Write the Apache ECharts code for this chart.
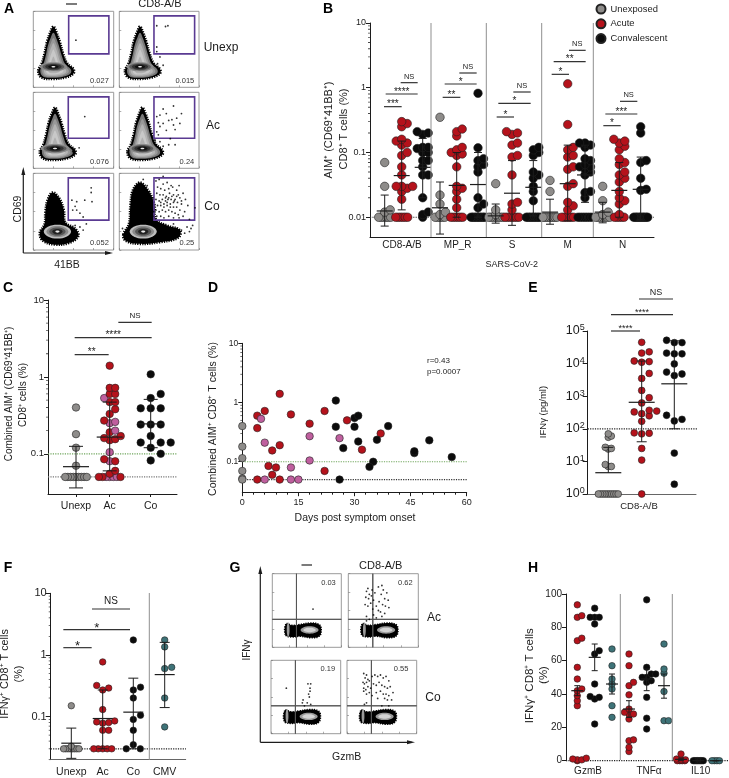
<!DOCTYPE html>
<html>
<head>
<meta charset="utf-8">
<title>AIM and IFNg CD8 T cell responses</title>
<script src="https://cdn.jsdelivr.net/npm/echarts@6/dist/echarts.min.js"></script>
<style>html,body{margin:0;padding:0;background:#fff}#chart{width:729px;height:778px}</style>
</head>
<body>
<div id="chart"></div>
<script>
// ---------- data ----------
// panel B, one list per peptide pool: CD8-A/B, MP_R, S, M, N
var bUnexp = [
	[0.07,0.03,0.013,0.012,0.01,0.01,0.01,0.01,0.01,0.01],
	[0.35,0.022,0.016,0.012,0.011,0.01,0.01,0.01,0.01,0.01],
	[0.033,0.013,0.011,0.01,0.01,0.01,0.01,0.01,0.01,0.01],
	[0.037,0.025,0.01,0.01,0.01,0.01,0.01,0.01,0.01,0.01],
	[0.03,0.018,0.012,0.011,0.01,0.01,0.01,0.01,0.01,0.01,0.01]
]
var bAcute = [
	[0.3,0.28,0.25,0.16,0.15,0.14,0.13,0.1,0.09,0.06,0.045,0.03,0.03,0.03,0.028,0.025,0.019,0.01,0.01,0.01,0.01,0.01,0.01],
	[0.23,0.21,0.18,0.12,0.11,0.1,0.095,0.09,0.06,0.03,0.028,0.025,0.019,0.014,0.01,0.01,0.01,0.01,0.01,0.01],
	[0.21,0.2,0.19,0.14,0.13,0.09,0.085,0.045,0.017,0.016,0.013,0.01,0.01,0.01,0.01,0.01,0.01,0.01],
	[1.15,0.27,0.12,0.11,0.09,0.085,0.06,0.055,0.033,0.03,0.017,0.015,0.013,0.01,0.01,0.01,0.01,0.01,0.01],
	[0.16,0.15,0.14,0.125,0.11,0.08,0.07,0.065,0.05,0.045,0.04,0.035,0.025,0.02,0.018,0.016,0.011,0.01,0.01,0.01,0.01,0.01]
]
var bConv = [
	[0.21,0.2,0.19,0.12,0.12,0.115,0.1,0.1,0.075,0.075,0.06,0.045,0.045,0.02,0.012,0.011,0.01],
	[0.82,0.118,0.08,0.075,0.065,0.06,0.05,0.02,0.016,0.014,0.01,0.01,0.01,0.01,0.01,0.01,0.01,0.01,0.01,0.01],
	[0.12,0.11,0.1,0.09,0.05,0.045,0.04,0.03,0.025,0.018,0.01,0.01,0.01,0.01,0.01,0.01,0.01,0.01,0.01,0.01],
	[0.14,0.14,0.13,0.12,0.08,0.075,0.065,0.06,0.06,0.055,0.05,0.045,0.025,0.024,0.02,0.01,0.01,0.01,0.01,0.01,0.01,0.01],
	[0.25,0.2,0.075,0.07,0.04,0.027,0.026,0.01,0.01,0.01,0.01,0.01,0.01,0.01,0.01,0.01,0.01,0.01]
]
var bCats = ['CD8-A/B','MP_R','S','M','N']
// mean, upper, lower per group, in the same order as the dots are drawn
var bStats = [
	[0.0125,0.022,0.0073],[0.044,0.15,0.013],[0.059,0.165,0.02],
	[0.014,0.035,0.0055],[0.031,0.1,0.01],[0.032,0.1,0.01],
	[0.0105,0.016,0.0081],[0.0235,0.075,0.0075],[0.029,0.075,0.0105],
	[0.012,0.019,0.0078],[0.033,0.13,0.0088],[0.045,0.13,0.017],
	[0.012,0.017,0.0082],[0.026,0.07,0.01],[0.027,0.085,0.009]
]
// panel C
var cUnexp = [0.4,0.18,0.12,0.07,0.05,0.05,0.05,0.05,0.05,0.05,0.05,0.05,0.05]
var cAcRed = [1.4,0.72,0.72,0.6,0.6,0.47,0.47,0.38,0.33,0.27,0.19,0.17,0.16,0.155,0.15,0.085,0.08,0.06,0.055,0.05,0.05,0.05]
var cAcPink = [0.53,0.26,0.25,0.2,0.105,0.08,0.05,0.05,0.05,0.05]
var cCo = [1.08,0.6,0.53,0.39,0.39,0.39,0.24,0.24,0.24,0.17,0.14,0.14,0.14,0.12,0.1,0.082]
var cCats = ['Unexp','Ac','Co']
var cStats = [[0.068,0.125,0.036],[0.165,0.47,0.06],[0.245,0.51,0.12]]
// panel D [days, percent]
var dGrey = [[0,0.4],[0,0.18],[0,0.115],[0,0.07],[0,0.052],[0,0.05]]
var dRed = [[4,0.6],[4,0.37],[6,0.72],[10,1.4],[13,0.63],[22,0.72],[18,0.44],[28,0.5],[37,0.3],[10,0.19],[8,0.155],[32,0.16],[7,0.085],[9,0.08],[8,0.06],[22,0.07],[4,0.05],[10,0.05]]
var dPink = [[5,0.53],[6,0.21],[18,0.27],[26,0.25],[18,0.105],[13,0.08],[6,0.05],[13,0.05],[15,0.05]]
var dBlack = [[25,1.08],[30,0.55],[31,0.6],[25,0.39],[30,0.39],[39,0.4],[31,0.22],[36,0.235],[27,0.17],[46,0.14],[46,0.15],[50,0.23],[56,0.12],[35,0.1],[34,0.082],[26,0.05]]
// panel E
var eUnexp = [70,60,55,27,25,24,8,7,7,1,1,1,1,1,1,1,1,1,1]
var eAc = [45000,23000,21000,12000,11500,11000,5000,3500,1500,900,620,370,350,330,290,250,170,75,73,70,25,11,1]
var eCo = [52000,44000,44000,21000,20000,20000,9800,5500,4800,4300,260,195,175,18,2]
var eStats = [[4.5,27,null],[650,12000,40],[2400,50000,100]]
// panel F
var fUnexp = [0.15,0.033,0.03,0.03,0.03,0.03,0.03,0.03,0.03,0.03]
var fAc = [0.77,0.32,0.29,0.27,0.13,0.085,0.082,0.08,0.078,0.06,0.06,0.03,0.03,0.03,0.03,0.03]
var fCo = [1.75,0.3,0.27,0.2,0.105,0.09,0.06,0.035,0.03,0.03]
var fCmv = [1.75,1.35,0.63,0.6,0.2,0.068]
var fCats = ['Unexp','Ac','Co','CMV']
var fStats = [[0.037,0.065,0.021],[0.093,0.27,0.03],[0.118,0.42,0.03],[0.48,1.6,0.14]]
// panel H, one list per cytokine: GzmB, TNFa, IL10
var hAc = [
	[93.5,87,86,73.5,72,56,49,43,42,39,36,33,1.5,1,0.5,0.5,0],
	[64,57,47,45,39.5,31,29,28,28,25,12.5,12,8,5.5],
	[4,1,0.5,0.5,0,0,0,0]
]
var hCo = [
	[91.5,86,86,86,82,66,64,46,38.5,38,37,22],
	[96.5,56,52,52,50,50,48,47,38,25.5,19],
	[0,0,0,0,0,0,0,0]
]
var hCmv = [
	[67,57,49,46,43,33,26],
	[70,55,52.5,41.5,24,24],
	[0,0,0,0]
]
var hCats = ['GzmB','TNFα','IL10']
var hStats = [[42,45,39],[62,70,54],[46,52,40],[31,36,26],[49,55,42],[45,52,37.5],[0.8,1.5,0],[0,0,0],[0,0,0]]
// flow cytometry rare events, percent of plot width and height
var a11 = [[53,62]]
var a12 = [[47,81],[58,80],[61,81],[47,53],[47,47],[51,40],[55,29],[50,25],[48,31]]
var a21 = [[64,68],[57,27],[50,24],[49,22]]
var a22 = [[68,82],[55,78],[78,72],[51,70],[59,72],[47,68],[66,64],[72,66],[49,60],[55,59],[62,63],[76,59],[51,55],[68,57],[47,48],[59,50],[70,51],[49,44],[55,29],[62,31],[70,31],[51,35],[45,37],[64,39]]
var a31 = [[72,81],[72,75],[73,63],[64,65],[54,63],[48,65],[52,57],[58,48],[49,52],[62,43],[54,52],[10,14],[66,34],[62,26],[58,30],[52,32]]
var a32 = [[46,90],[50,92],[55,86],[60,88],[65,84],[48,82],[52,80],[57,78],[62,80],[67,82],[72,78],[75,84],[80,74],[47,74],[51,72],[55,72],[59,70],[63,74],[68,72],[72,70],[76,68],[83,66],[46,66],[50,64],[54,66],[58,64],[61,66],[65,66],[69,64],[73,62],[78,60],[86,58],[48,58],[52,58],[56,60],[60,58],[64,60],[68,56],[72,56],[76,52],[82,50],[46,52],[50,50],[54,52],[58,50],[62,52],[66,50],[70,48],[74,46],[47,44],[52,44],[56,42],[62,44],[68,42],[75,42],[80,44],[88,40],[30,92],[35,84],[38,76],[42,68],[40,60],[43,50],[42,44],[85,30],[90,28],[92,32],[82,22],[78,26],[88,24],[72,28],[68,34],[4,28],[55,96],[95,55],[58,68],[62,68],[66,70],[70,66],[60,62],[64,56],[68,62],[56,56],[52,62],[74,72],[78,64]]
var g11 = [[59,52]]
var g12 = [[28,80],[26,76],[30,72],[34,78],[25,68],[29,66],[33,70],[38,74],[36,64],[43,82],[48,84],[50,78],[55,74],[47,72],[52,66],[57,64],[44,62],[49,58],[40,56],[53,56],[58,54],[35,52],[43,50],[46,48],[24,58],[28,56],[32,60],[26,42],[30,38],[36,44],[40,40],[52,46],[48,42],[26,36]]
var g21 = [[22,62],[53,68],[57,68],[56,62],[56,58],[54,54],[55,50],[46,46],[45,42],[52,42],[57,40],[48,38]]
var g22 = [[24,82],[28,80],[26,76],[30,74],[23,70],[25,68],[28,70],[32,72],[36,78],[40,80],[44,78],[48,80],[52,76],[56,78],[60,72],[24,62],[27,60],[30,64],[34,62],[38,68],[42,66],[46,70],[50,66],[54,64],[58,62],[62,64],[28,54],[32,56],[36,52],[42,56],[48,58],[52,54],[56,54],[60,52],[66,56],[24,58],[44,48],[54,48],[58,46],[25,40],[28,42],[50,38],[60,38],[64,46]]

// ---------- colours ----------
var GREY = '#8e8c8a', RED = '#b5121b', BLACK = '#0b0b0b', PINK = '#bf5f9e', TEAL = '#3e7378'
var INK = '#1c1c1c', RULE = '#8f8f8f', FONT = '"Liberation Sans", Arial, sans-serif'

var grids = [], xAxes = [], yAxes = [], series = [], graphics = []

function text(x,y,s,o){
	o = o || {}
	graphics.push({type:'text',x:x,y:y,rotation:o.rot||0,z:60,silent:true,style:{
		text:s,fontSize:o.size||10,fontFamily:FONT,fontWeight:o.weight||'normal',fill:o.color||INK,
		align:o.align||'center',verticalAlign:'middle'}})
}
function rule(x1,y1,x2,y2,color,width){
	graphics.push({type:'line',z:55,silent:true,shape:{x1:x1,y1:y1,x2:x2,y2:y2},style:{stroke:color||INK,lineWidth:width||1}})
}
function arrowHead(x,y,dir){
	var pts = dir=='up' ? [[x-2,y+8],[x+2,y+8],[x,y]] : [[x-8,y-2],[x-8,y+2],[x,y]]
	graphics.push({type:'polygon',z:55,silent:true,shape:{points:pts},style:{fill:INK}})
}
// significance bar, coordinates of the bar on the page
function bracket(x1,x2,y,label,size,dy){
	rule(x1,y,x2,y,'#333',1.2)
	var ns = label=='NS'
	text((x1+x2)/2,y-(dy||(ns?6:2)),label,{size:size||(ns?7.5:10)})
}
function addGrid(left,top,right,bottom,x,y){
	var i = grids.length
	grids.push({left:left,top:top,width:right-left,height:bottom-top,show:false})
	xAxes.push(Object.assign({type:'value',gridIndex:i,min:left,max:right,splitLine:{show:false},
		axisLine:{onZero:false,lineStyle:{color:INK,width:1}},axisTick:{show:false},axisLabel:{show:false}},x))
	yAxes.push(Object.assign({type:'value',gridIndex:i,splitLine:{show:false},
		axisLine:{onZero:false,lineStyle:{color:INK,width:1}},axisTick:{length:3,lineStyle:{color:INK}},
		axisLabel:{color:INK,fontFamily:FONT,fontSize:10,margin:4}},y))
	return i
}
function logLabel(v){
	var p = Math.log10(v)
	if(Math.abs(p-Math.round(p))>0.01) return ''
	p = Math.round(p)
	return p>=0 ? String(Math.pow(10,p)) : Math.pow(10,p).toFixed(-p)
}
function catLabels(centers,names,size,margin,ticks){
	return {
		axisTick:{show:!!ticks,customValues:centers,length:3,lineStyle:{color:INK}},
		axisLabel:{show:true,customValues:centers,margin:margin,fontSize:size,color:INK,fontFamily:FONT,hideOverlap:false,
			formatter:function(v){ return names[centers.indexOf(v)] }}
	}
}
// small log ticks drawn on the y axis line
function logMinors(i,x,lo,hi){
	var vals = []
	for(var p=lo;p<hi;p++) for(var k=2;k<10;k++) vals.push([x,k*Math.pow(10,p)])
	series.push({type:'scatter',xAxisIndex:i,yAxisIndex:i,data:vals,symbol:'rect',symbolSize:[2,0.8],symbolOffset:[-1,0],
		clip:false,silent:true,itemStyle:{color:INK},z:2})
}
function dotted(i,x1,x2,v,color){
	series.push({type:'line',xAxisIndex:i,yAxisIndex:i,data:[[x1,v],[x2,v]],symbol:'none',silent:true,z:2,clip:false,
		lineStyle:{type:'dotted',width:1.2,color:color||INK}})
}
// lay one group of values out side by side the way Prism does:
// values on the detection floor sit in a tight row, the rest push apart
function swarm(items,cx,toPx,lay){
	var placed = []
	var floorItems = items.filter(function(it){ return it.v===lay.floor })
	var n = floorItems.length
	var s = lay.floorStep
	if(n>1) s = Math.min(s,2*lay.floorHalf/(n-1))
	floorItems.forEach(function(it,j){
		var off = j==0 ? 0 : (j%2 ? 1 : -1)*Math.ceil(j/2)*s
		if(n%2==0) off -= s/2
		placed.push({x:off,y:toPx(it.v),v:it.v,c:it.c,floor:true})
	})
	items.filter(function(it){ return it.v!==lay.floor }).sort(function(a,b){return a.v-b.v}).forEach(function(it){
		var y = toPx(it.v), k = 0, off = 0
		while(true){
			off = k==0 ? 0 : (k%2 ? 1 : -1)*Math.ceil(k/2)*lay.step
			var clash = placed.some(function(p){ if(p.floor) return false; var dx=p.x-off,dy=p.y-y; return Math.sqrt(dx*dx+dy*dy)<lay.dmin })
			if(!clash) break
			k++
		}
		placed.push({x:off,y:y,v:it.v,c:it.c})
	})
	return placed.map(function(p){ return {value:[cx+p.x,p.v],itemStyle:{color:p.c}} })
}
function dots(i,name,data,color,size){
	series.push({type:'scatter',name:name,xAxisIndex:i,yAxisIndex:i,data:data,symbol:'circle',symbolSize:size,clip:false,z:3,silent:true,
		itemStyle:{color:color,borderColor:'#222',borderWidth:0.6,opacity:1}})
}
function group(i,name,vals,color,cx,toPx,size,lay){
	var items = vals.map(function(v){ return {v:v,c:color} })
	dots(i,name,swarm(items,cx,toPx,lay),color,size)
}
// mean line with upper and lower caps
function errorBars(i,centers,stats,meanW,capW){
	var rows = stats.map(function(s,k){ return [centers[k],s[0],s[1],s[2]] })
	series.push({type:'custom',xAxisIndex:i,yAxisIndex:i,data:rows,z:5,silent:true,clip:false,
		encode:{x:0,y:1},
		renderItem:function(params,api){
			var r = rows[params.dataIndex], kids = []
			var m = api.coord([r[0],r[1]]), hi = api.coord([r[0],r[2]])
			var lo = r[3]==null ? m : api.coord([r[0],r[3]])
			function seg(a,b,c,d,w){ kids.push({type:'line',shape:{x1:a,y1:b,x2:c,y2:d},style:{stroke:INK,lineWidth:w||1}}) }
			seg(m[0],hi[1],m[0],lo[1])
			seg(m[0]-meanW,m[1],m[0]+meanW,m[1],1.2)
			seg(m[0]-capW,hi[1],m[0]+capW,hi[1])
			if(r[3]!=null) seg(m[0]-capW,lo[1],m[0]+capW,lo[1])
			return {type:'group',children:kids}
		}})
}

// ---------- flow cytometry plots ----------
var tallBlob = [[6,22],[10,30],[14,45],[17,60],[21,72],[25,80],[29,72],[33,60],[37,45],[42,32],[50,24],[50,18],[40,13],[25,11],[10,13]]
var wideCloud = [[6,22],[12,34],[13,50],[16,66],[22,75],[30,68],[36,52],[38,36],[50,28],[54,18],[42,9],[25,7],[10,12]]
var bigCloud = [[5,20],[12,34],[14,60],[17,78],[26,88],[36,78],[44,60],[46,40],[60,32],[76,26],[74,16],[50,10],[25,8],[8,12]]
var flatBlob = [[19,17],[20,32],[28,30],[40,31],[55,33],[68,31],[71,24],[68,15],[55,13],[40,15],[28,14]]

function scalePts(pts,cx,cy,k){ return pts.map(function(p){ return [cx+(p[0]-cx)*k,cy+(p[1]-cy)*k] }) }
function ellipse(cx,cy,rx,ry){
	return [[-1,0],[-0.7,0.7],[0,1],[0.7,0.7],[1,0],[0.7,-0.7],[0,-1],[-0.7,-0.7]].map(function(u){ return [cx+u[0]*rx,cy+u[1]*ry] })
}
// shapes: list of {pts, fill, stroke, width, dash}, dots: scattered events
function flowPlot(box,shapes,pts,label,labelPos){
	var tick = {show:true,length:2,inside:true,lineStyle:{color:'#777',width:0.6}}
	var i = grids.length
	grids.push({left:box[0],top:box[1],width:box[2]-box[0],height:box[3]-box[1],show:true,borderColor:'#9a9a9a',borderWidth:1,backgroundColor:'#fff'})
	xAxes.push({type:'value',gridIndex:i,min:0,max:100,interval:25,splitLine:{show:false},axisLine:{show:false},axisTick:tick,axisLabel:{show:false}})
	yAxes.push({type:'value',gridIndex:i,min:0,max:100,interval:25,splitLine:{show:false},axisLine:{show:false},axisTick:tick,axisLabel:{show:false}})
	series.push({type:'custom',xAxisIndex:i,yAxisIndex:i,silent:true,z:2,data:shapes.map(function(s,k){ return [s.pts[0][0],s.pts[0][1],k] }),
		encode:{x:0,y:1},
		renderItem:function(params,api){
			var s = shapes[params.dataIndex]
			return {type:'polygon',shape:{points:s.pts.map(function(p){ return api.coord(p) }),smooth:s.sharp?0:0.4},
				style:{fill:s.fill||'none',stroke:s.stroke||null,lineWidth:s.width||0,lineDash:s.dash||null}}
		}})
	series.push({type:'scatter',xAxisIndex:i,yAxisIndex:i,data:pts,symbol:'circle',symbolSize:1.8,silent:true,z:3,itemStyle:{color:'#000'}})
	text(box[0]+(box[2]-box[0])*labelPos[0]/100,box[3]-(box[3]-box[1])*labelPos[1]/100,label,{size:7.5,align:labelPos[2]||'right',color:'#333'})
}
function blobLayers(outline,cx,cy,bx,by,brx,bry){
	var out = [{pts:outline,fill:'#000',stroke:'#000',width:2.5,dash:[1.2,1.2]}]
	;[[0.86,'#777'],[0.74,'#999'],[0.62,'#b4b4b4'],[0.48,'#c8c8c8'],[0.32,'#b0b0b0']].forEach(function(l){
		out.push({pts:scalePts(outline,cx,cy,l[0]),fill:l[1]})
	})
	;[[1,'#8a8a8a'],[0.8,'#5c5c5c'],[0.6,'#333'],[0.38,'#111'],[0.15,'#e8e8e8']].forEach(function(l){
		out.push({pts:ellipse(bx,by,brx*l[0],bry*l[0]),fill:l[1]})
	})
	return out
}
// clouds of the convalescent row: solid black with contours only at the base
function cloudLayers(outline,bx,by,brx,bry){
	var out = [{pts:outline,fill:'#000',stroke:'#000',width:2.5,dash:[1.2,1.2]}]
	;[[1,'#bdbdbd'],[0.8,'#8a8a8a'],[0.6,'#555'],[0.38,'#222'],[0.15,'#e8e8e8']].forEach(function(l){
		out.push({pts:ellipse(bx,by,brx*l[0],bry*l[0]),fill:l[1]})
	})
	return out
}
function gate(x1,y1,x2,y2){
	return {pts:[[x1,y1],[x2,y1],[x2,y2],[x1,y2]],stroke:'#5a3a92',width:1.6,sharp:true}
}
var shift = function(pts,dx){ return pts.map(function(p){ return [p[0]+dx,p[1]] }) }
var rowsA = [[11.3,87.3],[92.3,168.3],[173.3,250]], colsA = [[33.3,113.7],[119.3,199]]
flowPlot([colsA[0][0],rowsA[0][0],colsA[0][1],rowsA[0][1]],blobLayers(tallBlob,25,22,25,27,17,6).concat([gate(44,44,94,94)]),a11,'0.027',[94,9])
flowPlot([colsA[1][0],rowsA[0][0],colsA[1][1],rowsA[0][1]],blobLayers(shift(tallBlob,1),26,22,26,27,17,6).concat([gate(43.5,44,94.5,94)]),a12,'0.015',[94,9])
flowPlot([colsA[0][0],rowsA[1][0],colsA[0][1],rowsA[1][1]],blobLayers(shift(tallBlob,2),27,22,27,26,18,6).concat([gate(43.5,39.5,94,94)]),a21,'0.076',[94,9])
flowPlot([colsA[1][0],rowsA[1][0],colsA[1][1],rowsA[1][1]],blobLayers(shift(tallBlob,4),29,22,29,26,17,6).concat([gate(43.5,39.5,94.5,94)]),a22,'0.24',[94,9])
flowPlot([colsA[0][0],rowsA[2][0],colsA[0][1],rowsA[2][1]],cloudLayers(shift(wideCloud,2),30,24,17,9).concat([gate(43.5,39,94,94)]),a31,'0.052',[94,9])
flowPlot([colsA[1][0],rowsA[2][0],colsA[1][1],rowsA[2][1]],cloudLayers(bigCloud,30,24,17,9).concat([gate(43.5,39,94.5,94)]),a32,'0.25',[94,9])

function quad(){ return [{pts:[[35,0],[35,100],[35.01,100],[35.01,0]],stroke:'#555',width:1,sharp:true},{pts:[[0,38],[100,38],[100,38.01],[0,38.01]],stroke:'#555',width:1,sharp:true}] }
function flatLayers(){
	var out = [{pts:flatBlob,fill:'#000',stroke:'#000',width:1.5,dash:[1.2,1.2]}]
	;[[13,5,'#9a9a9a'],[9,3,'#d4d4d4']].forEach(function(l){ out.push({pts:ellipse(54,23.5,l[0],l[1]),fill:l[2]}) })
	out.push({pts:ellipse(23,24,2,10),fill:'#9a9a9a'})
	return out.concat(quad())
}
flowPlot([272.3,573.7,341.3,647.3],flatLayers(),g11,'0.03',[92,87])
flowPlot([348.3,573.7,418.3,647.3],flatLayers(),g12,'0.62',[92,87])
flowPlot([271,660.3,340.7,733.7],flatLayers(),g21,'0.19',[92,88])
flowPlot([347,660.3,416.7,733.7],flatLayers(),g22,'0.55',[88,88])

// ---------- panel B ----------
var bPx = function(v){ return Math.log10(v)*64.8 }
var bCenters = [384.7,401.7,422.7,440,456.7,478,495.7,512,533.3,550,567.7,585,602.7,619.3,640.7]
var bLabelX = [402,457.7,512,567.7,622.7]
var bLay = {floor:0.01,floorStep:2.4,floorHalf:7,dmin:4.2,step:5.5}
var bg = addGrid(370,23,654,237.3,catLabels(bLabelX,bCats,10,3,false),
	{type:'log',logBase:10,min:0.0049,max:10,axisLabel:{fontSize:9,color:INK,fontFamily:FONT,margin:4,customValues:[0.01,0.1,1,10],formatter:logLabel},
	axisTick:{length:4,customValues:[0.01,0.1,1,10],lineStyle:{color:INK}}})
logMinors(bg,370,-2,1)
dotted(bg,370,654,0.01,'#333')
bCats.forEach(function(c,k){
	group(bg,'Unexposed',bUnexp[k],GREY,bCenters[k*3],bPx,8.5,bLay)
	group(bg,'Acute',bAcute[k],RED,bCenters[k*3+1],bPx,8.5,bLay)
	group(bg,'Convalescent',bConv[k],BLACK,bCenters[k*3+2],bPx,8.5,bLay)
})
errorBars(bg,bCenters,bStats,8,4)
;[431,486.3,541.7,593.3].forEach(function(x){ rule(x,23,x,237,RULE,1) })
text(511.7,265,'SARS-CoV-2',{size:9})
text(329,130,'AIM⁺ (CD69⁺41BB⁺)',{rot:Math.PI/2,size:11})
text(344,129,'CD8⁺ T cells (%)',{rot:Math.PI/2,size:11})
var bBars = [
	[402,455,320,'***'],[407,503,282,'****'],[452,503,248,'NS'],
	[578,631,292,'**'],[584,680,252,'*'],[628,680,219,'NS'],
	[740,792,351,'*'],[745,842,310,'*'],[790,842,276,'NS'],
	[905,957,223,'*'],[911,1007,185,'**'],[957,1007,151,'NS'],
	[1060,1112,377,'*'],[1066,1162,342,'***'],[1110,1162,304,'NS']
]
bBars.forEach(function(b){ bracket(250+b[0]/3,250+b[1]/3,b[2]/3,b[3]) })

// ---------- panel C ----------
var cPx = function(v){ return Math.log10(v)*76.8 }
var cCenters = [76,109.7,150.7]
var cg = addGrid(48,300,177,494,catLabels(cCenters,cCats,10.5,7,true),
	{type:'log',logBase:10,min:0.03,max:10,axisLabel:{fontSize:9.5,color:INK,fontFamily:FONT,margin:4,customValues:[0.1,1,10],formatter:logLabel},
	axisTick:{length:4,customValues:[0.1,1,10],lineStyle:{color:INK}}})
logMinors(cg,48,-1,1)
dotted(cg,48,177,0.1,'#6fa65c')
dotted(cg,48,177,0.05,'#777')
group(cg,'Unexp',cUnexp,GREY,cCenters[0],cPx,7.5,{floor:0.05,floorStep:2.7,floorHalf:12,dmin:6,step:6.5})
dots(cg,'Ac',swarm(cAcPink.map(function(v){return {v:v,c:PINK}}).concat(cAcRed.map(function(v){return {v:v,c:RED}})),cCenters[1],cPx,{floor:0.05,floorStep:3.6,floorHalf:12,dmin:4.8,step:5.5}),RED,7.5)
group(cg,'Co',cCo,BLACK,cCenters[2],cPx,7.5,{floor:-1,floorStep:0,floorHalf:0,dmin:7,step:10})
errorBars(cg,cCenters,cStats,13,7)
text(9.5,394,'Combined AIM⁺ (CD69⁺41BB⁺)',{rot:Math.PI/2,size:10})
text(23,395,'CD8⁺ cells (%)',{rot:Math.PI/2,size:10})
bracket(224/3,326/3,275+239/3,'**',10)
bracket(224/3,455/3,275+188/3,'****',10)
bracket(355/3,455/3,275+142/3,'NS',8,7)

// ---------- panel D ----------
var dg = addGrid(242.3,343.3,466.7,492.7,{
	min:0,max:60,interval:15,axisTick:{show:true,length:3.5,lineStyle:{color:INK}},minorTick:{show:true,splitNumber:5,length:2,lineStyle:{color:INK}},
	axisLabel:{show:true,fontSize:9,color:INK,fontFamily:FONT,margin:5}
},{type:'log',logBase:10,min:0.03,max:10,axisLabel:{fontSize:8.5,color:INK,fontFamily:FONT,margin:4,customValues:[0.1,1,10],formatter:logLabel},
	axisTick:{length:4,customValues:[0.1,1,10],lineStyle:{color:INK}}})
logMinors(dg,0,-1,1)
dotted(dg,0,60,0.1,'#6fa65c')
dotted(dg,0,60,0.05,'#333')
dots(dg,'Unexp',dGrey,GREY,7.5)
dots(dg,'Acute',dRed,RED,7.5)
dots(dg,'Acute mild',dPink,PINK,7.5)
dots(dg,'Conv',dBlack,BLACK,7.5)
text(213.5,419,'Combined AIM⁺ CD8⁺ T cells (%)',{rot:Math.PI/2,size:10.5})
text(355,517.7,'Days post symptom onset',{size:10.5})
text(427,361,'r=0.43',{size:8,align:'left'})
text(427,372,'p=0.0007',{size:8,align:'left'})

// ---------- panel E ----------
var ePx = function(v){ return Math.log10(v)*32.6 }
var eCenters = [608.3,641.7,674.3]
var eg = addGrid(587.7,331,696,494,catLabels([639],['CD8-A/B'],9.5,7,false),
	{type:'log',logBase:10,min:1,max:100000,axisLabel:{color:INK,fontFamily:FONT,margin:3,customValues:[1,10,100,1000,10000,100000],
		formatter:function(v){ return '{a|10}{b|'+Math.round(Math.log10(v))+'}' },
		rich:{a:{fontSize:12.5,fontFamily:FONT,color:INK},b:{fontSize:9,fontFamily:FONT,color:INK,padding:[0,0,6,0]}}},
	axisTick:{length:5,customValues:[1,10,100,1000,10000,100000],lineStyle:{color:INK}}})
xAxes[eg].axisLine.lineStyle.color = '#666'
dotted(eg,587.7,697,100,'#222')
group(eg,'Unexp',eUnexp,GREY,eCenters[0],ePx,6.8,{floor:1,floorStep:2.2,floorHalf:10,dmin:3,step:3})
group(eg,'Ac',eAc,RED,eCenters[1],ePx,6.8,{floor:-1,floorStep:0,floorHalf:0,dmin:5.5,step:7.5})
group(eg,'Co',eCo,BLACK,eCenters[2],ePx,6.8,{floor:-1,floorStep:0,floorHalf:0,dmin:6,step:7.7})
errorBars(eg,eCenters,eStats,13,5)
text(543,412,'IFNγ (pg/ml)',{rot:Math.PI/2,size:9.5})
bracket(611,640,331,'****',9,2)
bracket(611,673,314.7,'****',9,2)
bracket(639,673,299,'NS',9,6.5)

// ---------- panel F ----------
var fPx = function(v){ return Math.log10(v)*62 }
var fCenters = [71.3,102.7,133.3,164.7]
var fg = addGrid(50.7,593.3,185.7,760,catLabels(fCenters,fCats,10.5,8,false),
	{type:'log',logBase:10,min:0.0205,max:10,axisLabel:{fontSize:11,color:INK,fontFamily:FONT,margin:4,customValues:[0.1,1,10],formatter:logLabel},
	axisTick:{length:5,customValues:[0.1,1,10],lineStyle:{color:INK}}})
xAxes[fg].axisLine.lineStyle.color = '#666'
logMinors(fg,50.7,-2,1)
dotted(fg,50.7,186,0.03,'#222')
group(fg,'Unexp',fUnexp,GREY,fCenters[0],fPx,6.5,{floor:0.03,floorStep:2.2,floorHalf:8,dmin:3,step:3})
group(fg,'Ac',fAc,RED,fCenters[1],fPx,6.5,{floor:0.03,floorStep:4.5,floorHalf:9,dmin:4.6,step:6})
group(fg,'Co',fCo,BLACK,fCenters[2],fPx,6.5,{floor:0.03,floorStep:14,floorHalf:7,dmin:5.5,step:7.2})
group(fg,'CMV',fCmv,TEAL,fCenters[3],fPx,6.5,{floor:-1,floorStep:0,floorHalf:0,dmin:5,step:7})
errorBars(fg,fCenters,fStats,10,5)
rule(149.3,593,149.3,760,RULE,1)
text(5.5,674,'IFNγ⁺ CD8⁺ T cells',{rot:Math.PI/2,size:10.8})
text(19,674,'(%)',{rot:Math.PI/2,size:10.8})
bracket(190/3,275/3,530+353/3,'*',13,1)
bracket(190/3,390/3,530+299/3,'*',13,1)
bracket(276/3,390/3,530+237/3,'NS',10,7.5)

// ---------- panel H ----------
var hPx = function(v){ return v*1.667 }
var hCenters = [577.3,594.7,612,629,646.7,664,681,698.3,715.7]
var hLabelX = [588,649,700.7]
var hLay = {floor:0,floorStep:2.5,floorHalf:5,dmin:4,step:4.5}
var hg = addGrid(566,594,729,760.7,catLabels(hLabelX,hCats,10,6,false),
	{min:0,max:100,interval:20,axisLabel:{fontSize:10,color:INK,fontFamily:FONT,margin:4},axisTick:{length:4,lineStyle:{color:INK}}})
xAxes[hg].axisLine.show = false
dotted(hg,566,729,0,'#222')
hCats.forEach(function(c,k){
	group(hg,'Ac',hAc[k],RED,hCenters[k*3],hPx,6.5,hLay)
	group(hg,'Co',hCo[k],BLACK,hCenters[k*3+1],hPx,6.5,hLay)
	group(hg,'CMV',hCmv[k],TEAL,hCenters[k*3+2],hPx,6.5,hLay)
})
errorBars(hg,hCenters,hStats,6,3)
rule(620.3,594,620.3,760,RULE,1)
rule(672.3,594,672.3,760,RULE,1)
text(530,675.7,'IFNγ⁺ CD8⁺ T cells',{rot:Math.PI/2,size:11.5})
text(544,675,'(%)',{rot:Math.PI/2,size:11.5})

// ---------- free labels of the figure ----------
var letters = [['A',9,9],['B',328,9],['C',8,288],['D',213,288],['E',533,288],['F',8,568],['G',235,568],['H',533,568]]
letters.forEach(function(l){ text(l[1],l[2],l[0],{size:14,weight:'bold',color:'#000'}) })
rule(66,4,77,4,'#222',1.2)
text(160,4,'CD8-A/B',{size:11})
text(221,48,'Unexp',{size:12})
text(213,126,'Ac',{size:12})
text(212,207,'Co',{size:12})
text(18,209,'CD69',{rot:Math.PI/2,size:10.5})
text(67,265,'41BB',{size:10.5})
rule(23.3,253,23.3,170,INK,1.2); arrowHead(23.3,167,'up')
rule(23.3,253,110,253,INK,1.2); arrowHead(113,253,'right')
rule(301.5,565,312,565,'#222',1.2)
text(380.7,566,'CD8-A/B',{size:11})
text(434,618,'Ac',{size:12})
text(433,698,'Co',{size:12})
text(247,650,'IFNγ',{rot:Math.PI/2,size:10})
text(346.7,757,'GzmB',{size:10.5})
rule(260.3,742.3,260.3,570,INK,1.2); arrowHead(260.3,566,'up')
rule(260.3,742.3,412,742.3,INK,1.2); arrowHead(415,742.3,'right')

var option = {
	animation:false,
	backgroundColor:'#fff',
	textStyle:{fontFamily:FONT},
	legend:{data:['Unexposed','Acute','Convalescent'],orient:'vertical',left:595.5,top:3.5,padding:0,itemGap:3.8,itemWidth:9,itemHeight:9,icon:'circle',selectedMode:false,
		textStyle:{fontSize:9.4,color:INK,fontFamily:FONT}},
	grid:grids,xAxis:xAxes,yAxis:yAxes,series:series,graphic:graphics
}
var myChart = echarts.init(document.getElementById('chart'),null,{renderer:'canvas'})
myChart.setOption(option)
</script>
</body>
</html>
